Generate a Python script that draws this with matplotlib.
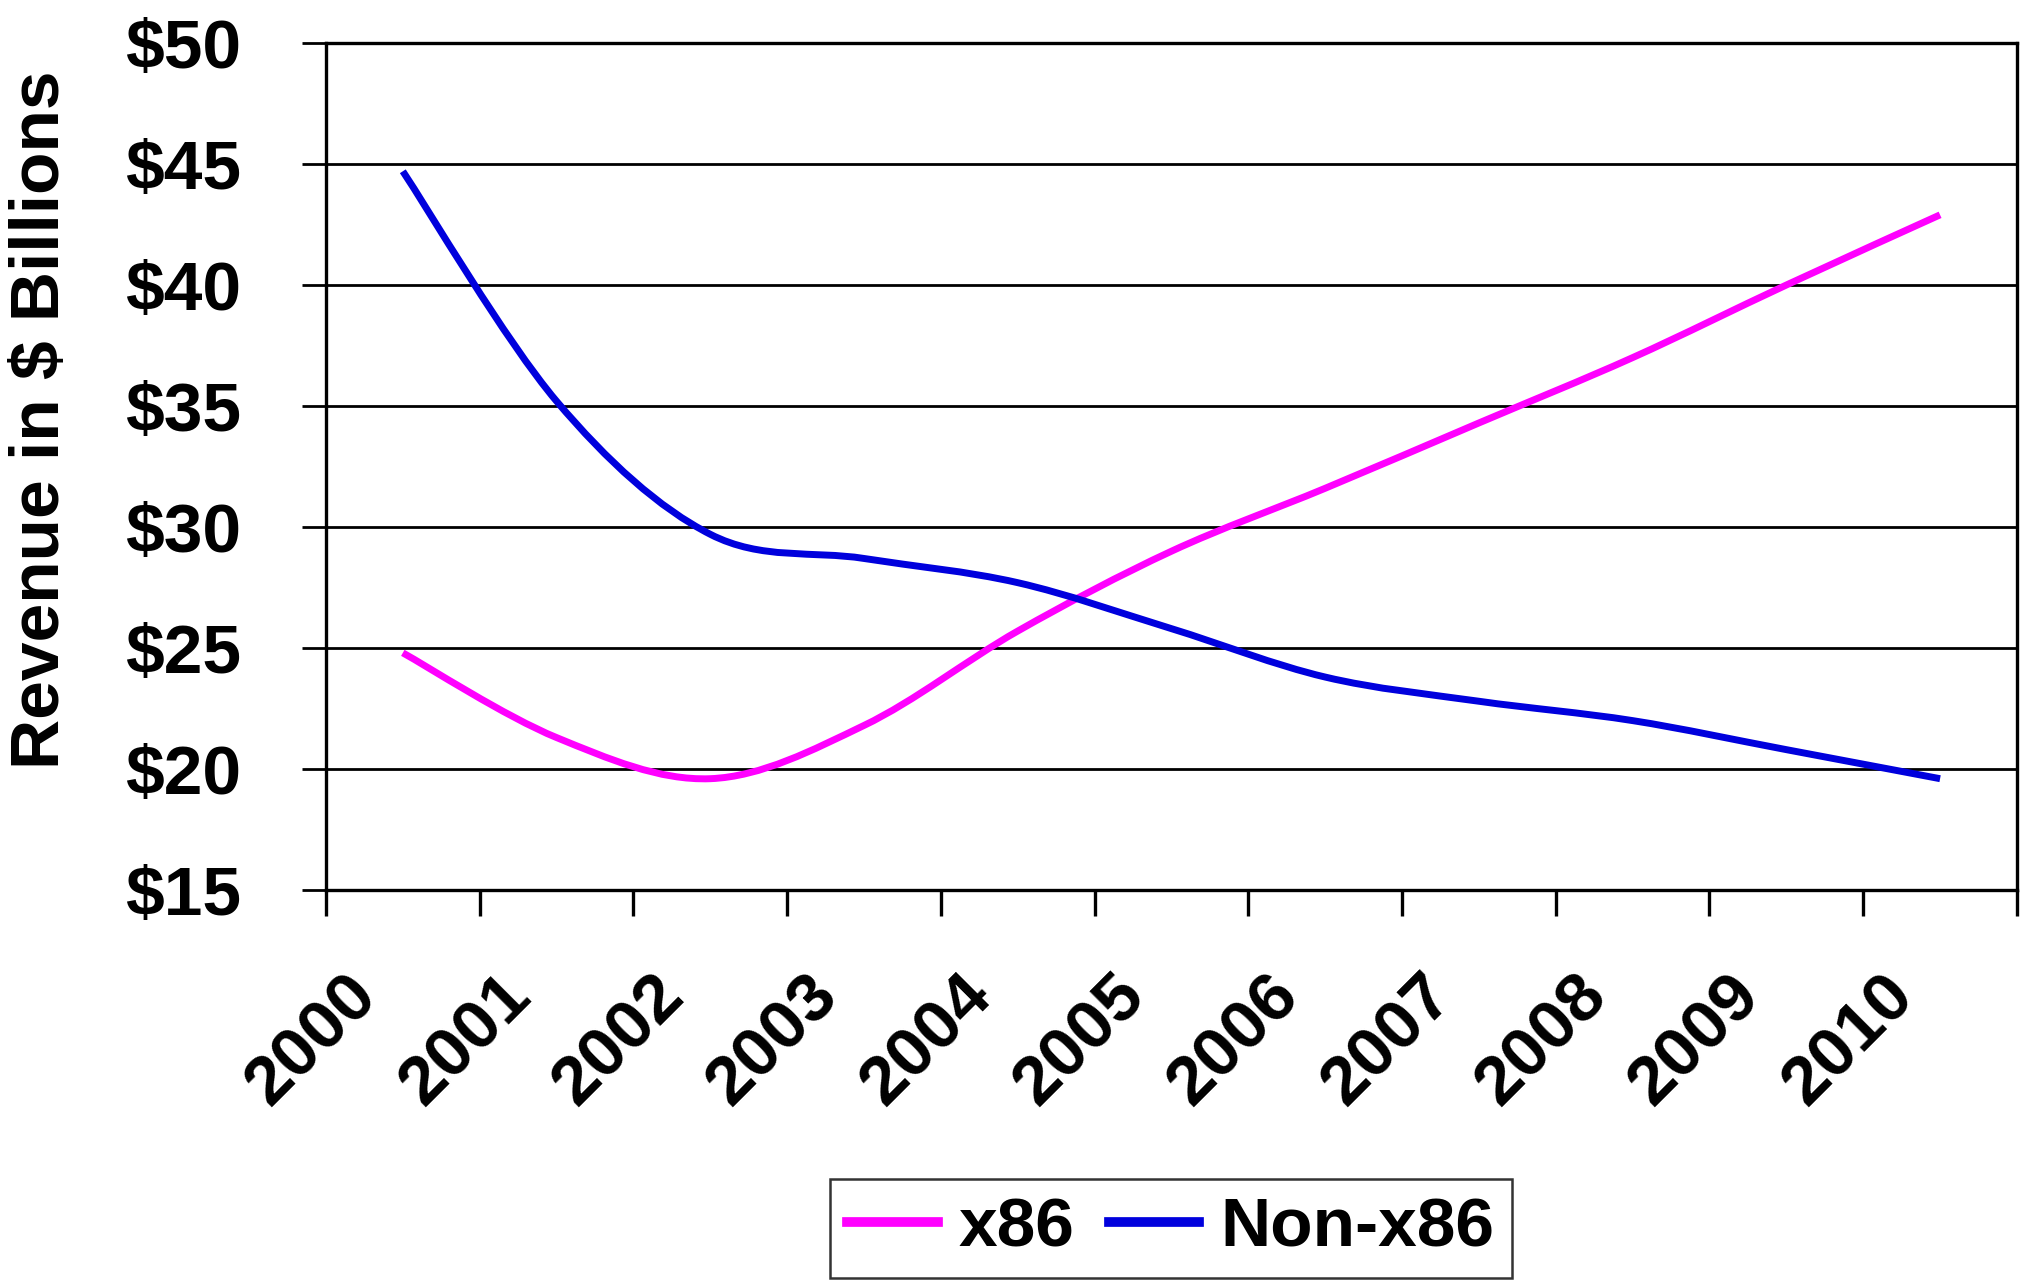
import matplotlib
matplotlib.use('Agg')
import matplotlib.pyplot as plt
import numpy as np
from matplotlib.path import Path
from matplotlib.patches import PathPatch
from matplotlib.lines import Line2D
from matplotlib.transforms import ScaledTranslation

plt.rcParams['font.family'] = ['Liberation Sans', 'DejaVu Sans']
plt.rcParams['font.weight'] = 'bold'

years = ['2000', '2001', '2002', '2003', '2004', '2005',
         '2006', '2007', '2008', '2009', '2010']
x86 = [24.8, 21.3, 19.6, 21.8, 25.7, 29.0, 31.6, 34.3, 37.0, 40.0, 42.9]
non_x86 = [44.7, 35.2, 29.7, 28.7, 27.7, 25.8, 23.8, 22.8, 22.0, 20.8, 19.6]
yticks = [15, 20, 25, 30, 35, 40, 45, 50]
ytick_labels = ['$' + str(v) for v in yticks]
series_names = ['x86', 'Non-x86']
colors = ['#FF00FF', '#0000DD']


def smooth_path(xs, ys):
    # excel-like smoothed line: catmull-rom segments as cubic beziers
    pts = np.column_stack([xs, ys]).astype(float)
    n = len(pts)
    verts = [pts[0]]
    codes = [Path.MOVETO]
    for i in range(n - 1):
        p0 = pts[i - 1] if i > 0 else pts[i]
        p1 = pts[i]
        p2 = pts[i + 1]
        p3 = pts[i + 2] if i + 2 < n else pts[i + 1]
        verts += [p1 + (p2 - p0) / 6.0, p2 - (p3 - p1) / 6.0, p2]
        codes += [Path.CURVE4] * 3
    return Path(verts, codes)


fig = plt.figure(figsize=(20.22, 12.88), dpi=100)
ax = fig.add_axes([0.1612, 0.309, 0.8363, 0.6576])

xpos = np.arange(len(years))
for vals, c in zip([x86, non_x86], colors):
    patch = PathPatch(smooth_path(xpos, vals), fill=False, edgecolor=c,
                      lw=5, zorder=3, capstyle='butt')
    ax.add_patch(patch)

ax.set_xlim(-0.5, len(years) - 0.5)
ax.set_ylim(15, 50)

ax.set_yticks(yticks)
ax.set_yticklabels(ytick_labels, fontsize=50, fontweight='bold')
ax.tick_params(axis='y', direction='out', length=17, width=2, pad=44)
ax.yaxis.grid(True, color='black', lw=2)
ax.set_axisbelow(True)

ax.set_xticks(xpos)
ax.set_xticks(np.arange(-0.5, len(years), 1), minor=True)
ax.tick_params(axis='x', which='major', length=0, pad=69)
ax.tick_params(axis='x', which='minor', direction='out', length=19, width=2.4)
labels = ax.set_xticklabels(years, fontsize=50, fontweight='bold', rotation=45,
                            ha='right', va='center', rotation_mode='anchor')
shift = ScaledTranslation(-0.36, 0, fig.dpi_scale_trans)
for lab in labels:
    lab.set_transform(lab.get_transform() + shift)

for s in ax.spines.values():
    s.set_color('black')
    s.set_linewidth(2.4)

fig.text(0.0203, 0.674, 'Revenue in $ Billions', rotation=90, fontsize=50,
         fontweight='bold', ha='center', va='center')

handles = [Line2D([], [], color=c, lw=7) for c in colors]
leg = fig.legend(handles, series_names, loc='center', bbox_to_anchor=(0.579, 0.046),
                 ncol=2, fontsize=50, frameon=True, fancybox=False,
                 handlelength=1.3, handletextpad=0.3, columnspacing=0.5,
                 borderpad=0.25, borderaxespad=0)
leg.get_frame().set_edgecolor('black')
leg.get_frame().set_linewidth(1.8)
for t in leg.get_texts():
    t.set_fontweight('bold')

fig.savefig('out.png', dpi=100, facecolor='white')
